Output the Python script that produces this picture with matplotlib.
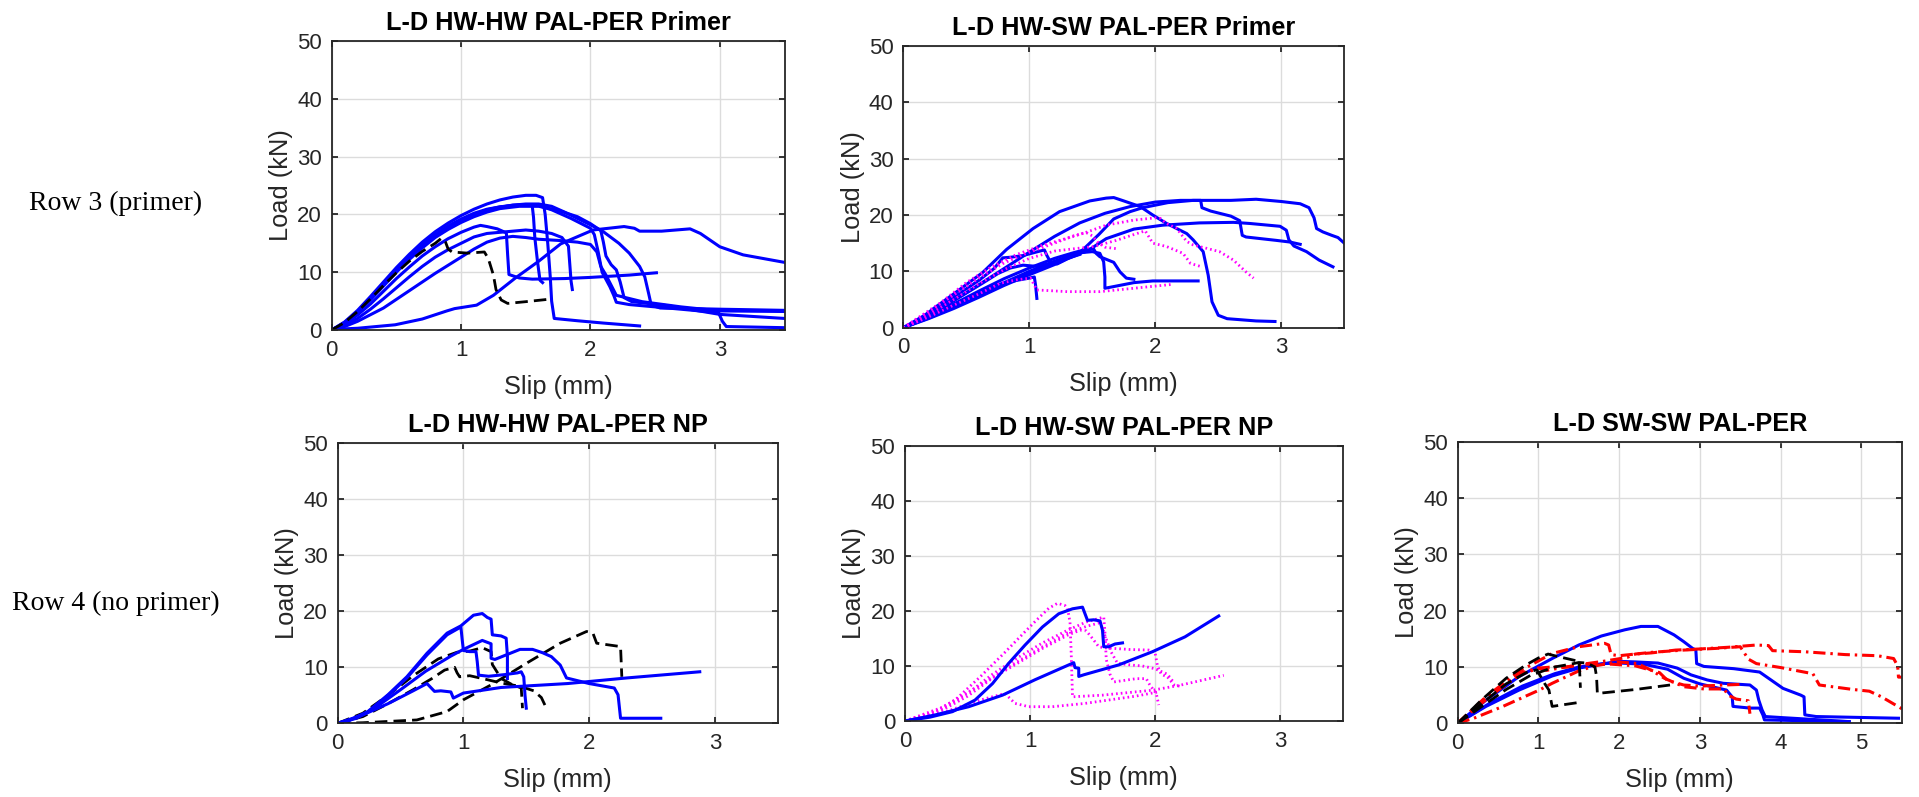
import matplotlib
matplotlib.use("Agg")
import matplotlib.pyplot as plt

# ---------------- DATA (slip mm, load kN) ----------------
# Panel: L-D HW-HW PAL-PER Primer
HWHW_P_BLUE_1 = [(0,0),(0.1,1.4),(0.2,3.4),(0.3,5.8),(0.4,8.3),(0.5,10.8),(0.6,13.1),(0.7,15.2),(0.8,17.0),(0.9,18.5),(1.0,19.8),(1.1,20.9),(1.2,21.8),(1.3,22.5),(1.4,23.0),(1.5,23.3),(1.58,23.3),(1.63,22.9),(1.65,20.0),(1.67,15.0),(1.69,9.0),(1.70,5.0),(1.72,2.0),(1.9,1.6),(2.1,1.2),(2.38,0.7)]
HWHW_P_BLUE_2 = [(0,0),(0.1,1.2),(0.2,3.1),(0.3,5.4),(0.4,7.9),(0.5,10.3),(0.6,12.5),(0.7,14.5),(0.8,16.2),(0.9,17.6),(1.0,18.8),(1.1,19.8),(1.2,20.6),(1.3,21.2),(1.4,21.6),(1.5,21.8),(1.6,21.8),(1.7,21.4),(1.8,20.4),(1.9,19.3),(2.0,18.2),(2.1,17.0),(2.22,15.0),(2.3,13.3),(2.38,11.0),(2.42,9.2),(2.45,6.3),(2.47,4.3),(2.54,3.8),(2.8,3.7),(3.0,3.6),(3.5,3.4)]
HWHW_P_BLUE_3 = [(0,0),(0.1,1.3),(0.2,3.2),(0.3,5.5),(0.4,8.0),(0.5,10.4),(0.6,12.6),(0.7,14.6),(0.8,16.3),(0.9,17.8),(1.0,19.0),(1.1,20.0),(1.2,20.8),(1.3,21.3),(1.45,21.6),(1.6,21.5),(1.7,20.8),(1.85,19.3),(2.0,17.6),(2.03,16.5),(2.06,13.5),(2.09,10.0),(2.15,7.5),(2.18,6.0),(2.2,4.8),(2.3,4.4),(2.6,3.8),(2.99,3.0),(3.02,1.5),(3.05,0.6),(3.5,0.4)]
HWHW_P_BLUE_4 = [(0,0),(0.1,1.1),(0.2,3.0),(0.3,5.2),(0.4,7.6),(0.5,10.0),(0.6,12.2),(0.7,14.2),(0.8,16.0),(0.9,17.4),(1.0,18.6),(1.1,19.6),(1.2,20.4),(1.3,21.0),(1.45,21.4),(1.6,21.4),(1.75,20.7),(1.9,19.6),(2.0,18.4),(2.08,17.2),(2.1,15.2),(2.12,12.8),(2.16,11.3),(2.2,10.4),(2.23,8.3),(2.26,5.6),(2.32,4.9),(2.6,4.2),(3.0,2.7),(3.5,2.0)]
HWHW_P_BLUE_5 = [(0,0),(0.1,1.2),(0.2,3.2),(0.3,5.6),(0.4,8.1),(0.5,10.6),(0.6,12.8),(0.7,14.8),(0.8,16.5),(0.9,18.0),(1.0,19.2),(1.1,20.2),(1.2,20.9),(1.3,21.3),(1.4,21.6),(1.5,21.7),(1.55,21.5),(1.56,19.5),(1.57,16.0),(1.59,12.0),(1.61,8.6),(1.63,8.2)]
HWHW_P_BLUE_6 = [(0,0),(0.1,1.0),(0.2,2.6),(0.3,4.5),(0.4,6.7),(0.5,8.9),(0.6,10.9),(0.7,12.8),(0.8,14.4),(0.9,15.8),(1.0,16.9),(1.1,17.8),(1.15,18.1),(1.2,17.9),(1.28,17.5),(1.35,16.8),(1.36,13.0),(1.37,9.6),(1.45,9.0),(1.55,8.8),(1.8,8.9),(2.0,9.1),(2.3,9.5),(2.51,9.9)]
HWHW_P_BLUE_7 = [(0,0),(0.1,0.8),(0.2,2.0),(0.3,3.6),(0.4,5.4),(0.5,7.3),(0.6,9.2),(0.7,11.0),(0.8,12.6),(0.9,13.9),(1.0,15.0),(1.1,16.1),(1.2,16.7),(1.35,17.0),(1.5,17.3),(1.6,17.1),(1.7,16.7),(1.78,16.0),(1.83,14.5),(1.84,11.5),(1.85,8.5),(1.86,7.0)]
HWHW_P_BLUE_8 = [(0,0.1),(0.2,0.3),(0.49,0.9),(0.7,1.9),(0.89,3.3),(0.95,3.7),(1.12,4.3),(1.25,6.0),(1.42,9.0),(1.6,11.9),(1.77,14.9),(2.02,17.3),(2.26,17.9),(2.34,17.6),(2.38,17.1),(2.55,17.1),(2.77,17.5),(2.85,16.7),(3.0,14.4),(3.18,13.0),(3.5,11.7)]
HWHW_P_BLUE_9 = [(0,0),(0.1,0.6),(0.2,1.5),(0.4,3.8),(0.6,6.8),(0.8,9.8),(1.0,12.6),(1.1,14.0),(1.2,15.2),(1.3,15.9),(1.4,16.2),(1.5,16.0),(1.6,15.7),(1.75,15.5),(1.9,15.2),(2.0,14.8),(2.05,13.5),(2.08,11.0),(2.12,9.5),(2.2,6.0),(2.4,4.9),(2.7,4.0),(3.0,3.3),(3.5,3.2)]
HWHW_P_BLACK_1 = [(0,0),(0.1,1.3),(0.2,3.2),(0.3,5.4),(0.4,7.7),(0.5,9.9),(0.6,11.9),(0.7,13.6),(0.8,15.0),(0.85,15.9),(0.88,15.2),(0.9,14.0),(0.93,13.5),(1.05,13.3),(1.18,13.5),(1.21,12.4),(1.25,9.5),(1.27,7.0),(1.31,5.2),(1.36,4.6),(1.5,4.9),(1.67,5.3)]

# Panel: L-D HW-SW PAL-PER Primer
HWSW_P_BLUE_1 = [(0,0),(0.1,1.0),(0.24,3.4),(0.4,6.0),(0.63,9.8),(0.82,13.9),(1.03,17.6),(1.24,20.6),(1.48,22.5),(1.61,23.0),(1.67,23.1),(1.75,22.5),(1.88,21.5),(1.98,20.0),(2.09,18.5),(2.25,16.7),(2.30,15.6),(2.38,13.5),(2.42,9.3),(2.45,4.6),(2.50,2.2),(2.57,1.6),(2.8,1.2),(2.95,1.1)]
HWSW_P_BLUE_2 = [(0,0),(0.2,2.0),(0.5,6.2),(0.8,10.5),(1.0,13.4),(1.2,16.2),(1.4,18.6),(1.6,20.3),(1.8,21.5),(2.0,22.3),(2.2,22.6),(2.36,22.6),(2.37,21.3),(2.44,20.7),(2.6,19.8),(2.67,19.0),(2.69,16.4),(2.72,16.1),(2.96,15.5),(3.07,15.2),(3.15,14.8)]
HWSW_P_BLUE_3 = [(0,0),(0.2,1.6),(0.4,3.4),(0.6,5.4),(0.8,7.5),(1.0,9.4),(1.2,11.2),(1.4,13.3),(1.55,16.5),(1.67,19.3),(1.8,20.6),(1.9,21.3),(2.1,22.2),(2.3,22.6),(2.6,22.6),(2.8,22.8),(3.0,22.4),(3.15,22.0),(3.22,21.3),(3.26,19.5),(3.28,17.6),(3.33,17.0),(3.4,16.4),(3.45,16.0),(3.5,15.0)]
HWSW_P_BLUE_4 = [(0,0),(0.2,1.7),(0.4,3.6),(0.6,5.6),(0.8,7.7),(1.0,9.7),(1.2,11.6),(1.4,13.2),(1.46,13.6),(1.61,15.8),(1.83,17.5),(2.06,18.2),(2.35,18.6),(2.62,18.7),(2.75,18.5),(2.99,18.0),(3.04,17.3),(3.06,15.6),(3.1,14.5),(3.2,13.5),(3.3,12.0),(3.41,10.8)]
HWSW_P_BLUE_5 = [(0,0),(0.2,1.8),(0.4,3.8),(0.6,5.9),(0.8,8.0),(1.0,10.0),(1.2,11.8),(1.4,13.3),(1.5,13.5),(1.56,13.2),(1.59,11.7),(1.6,9.0),(1.6,7.0),(1.67,7.3),(1.83,8.0),(1.98,8.3),(2.34,8.3)]
HWSW_P_BLUE_6 = [(0,0),(0.2,2.0),(0.4,4.2),(0.6,6.5),(0.8,8.7),(1.0,10.6),(1.2,12.3),(1.35,13.3),(1.45,13.9),(1.51,14.0),(1.53,13.2),(1.56,12.6),(1.67,11.6),(1.72,9.9),(1.77,8.8),(1.83,8.6)]
HWSW_P_BLUE_7 = [(0,0),(0.2,2.6),(0.4,5.4),(0.6,8.4),(0.72,10.5),(0.79,12.4),(0.85,12.5),(0.95,12.8),(1.05,13.4),(1.12,13.8),(1.14,12.8),(1.17,11.6),(1.22,11.3),(1.3,12.2),(1.4,13.1)]
HWSW_P_BLUE_8 = [(0,0),(0.2,2.2),(0.4,4.8),(0.6,7.5),(0.75,9.6),(0.85,10.6),(0.95,11.1),(1.05,10.9),(1.15,11.3),(1.3,12.3),(1.4,13.0)]
HWSW_P_BLUE_9 = [(0,0),(0.2,1.9),(0.4,4.0),(0.6,6.2),(0.7,7.3),(0.8,7.9),(0.9,8.4),(1.0,8.8),(1.04,9.0),(1.05,7.5),(1.06,5.2)]
HWSW_P_MAG_1 = [(0,0),(0.1,1.5),(0.3,4.5),(0.5,8.0),(0.7,10.8),(0.9,13.0),(1.1,14.6),(1.35,16.2),(1.46,17.0),(1.61,18.2),(1.83,19.1),(2.0,19.5),(2.04,19.4),(2.09,18.5),(2.17,17.6),(2.25,15.3),(2.3,14.7),(2.51,13.5),(2.62,12.0),(2.72,9.9),(2.78,8.8)]
HWSW_P_MAG_2 = [(0,0),(0.2,2.3),(0.4,5.0),(0.6,7.8),(0.8,10.3),(1.0,12.3),(1.2,13.6),(1.35,14.0),(1.51,14.4),(1.69,15.5),(1.92,17.2),(1.98,15.0),(2.09,14.4),(2.22,13.2),(2.28,11.4),(2.37,10.8)]
HWSW_P_MAG_3 = [(0,0),(0.2,2.8),(0.4,5.8),(0.6,8.8),(0.8,11.5),(1.0,13.4),(1.2,15.0),(1.35,16.3),(1.45,16.9),(1.5,16.3),(1.55,15.0),(1.6,14.3),(1.7,14.0)]
HWSW_P_MAG_4 = [(0,0),(0.2,1.9),(0.4,4.0),(0.6,6.0),(0.77,7.9),(0.9,8.5),(1.01,8.8),(1.06,6.7),(1.3,6.4),(1.56,6.4),(1.83,7.0),(2.14,7.7)]

# Panel: L-D HW-HW PAL-PER NP
HWHW_NP_BLUE_1 = [(0,0),(0.1,0.6),(0.24,2.1),(0.4,5.1),(0.55,8.3),(0.71,12.5),(0.87,16.1),(0.98,17.4),(1.08,19.3),(1.15,19.6),(1.19,18.9),(1.22,18.6),(1.23,15.8),(1.3,15.6),(1.34,15.2),(1.35,12.0),(1.35,8.0)]
HWHW_NP_BLUE_2 = [(0,0),(0.1,0.6),(0.24,2.0),(0.4,4.9),(0.55,8.1),(0.71,12.2),(0.87,15.8),(0.98,17.2),(0.99,15.0),(1.0,13.0),(1.05,12.8),(1.1,12.8),(1.11,11.0),(1.12,8.6),(1.2,8.4),(1.33,8.7),(1.43,9.0),(1.46,9.2),(1.48,8.3),(1.49,5.0),(1.5,2.7)]
HWHW_NP_BLUE_3 = [(0,0),(0.15,0.9),(0.3,2.8),(0.5,6.0),(0.7,9.3),(0.9,12.0),(1.0,13.2),(1.15,14.8),(1.22,14.2),(1.22,11.6),(1.25,11.4),(1.45,13.2),(1.55,13.2),(1.63,12.6),(1.7,11.9),(1.77,10.4),(1.82,8.1),(2.0,7.1),(2.15,6.5),(2.2,6.3),(2.23,5.1),(2.25,0.9),(2.57,0.9)]
HWHW_NP_BLUE_4 = [(0,0),(0.2,1.5),(0.4,3.5),(0.6,5.8),(0.71,7.1),(0.77,5.7),(0.82,5.8),(0.9,5.6),(0.92,4.5),(1.0,5.4),(1.3,6.4),(1.83,7.1),(2.3,8.1),(2.88,9.2)]
HWHW_NP_BLACK_1 = [(0,0),(0.2,0.1),(0.63,0.6),(0.87,2.1),(1.0,4.2),(1.24,7.1),(1.5,10.7),(1.77,14.3),(1.98,16.4),(2.03,16.1),(2.06,14.3),(2.25,13.7),(2.26,8.3)]
HWHW_NP_BLACK_2 = [(0,0),(0.2,1.8),(0.4,5.0),(0.6,8.5),(0.8,11.5),(0.95,12.7),(1.05,12.9),(1.15,13.5),(1.22,12.8),(1.23,10.5),(1.3,8.0),(1.38,7.0),(1.46,6.3),(1.47,2.7)]
HWHW_NP_BLACK_3 = [(0,0),(0.2,1.2),(0.4,3.5),(0.6,6.0),(0.75,8.0),(0.85,9.5),(0.93,10.0),(0.95,9.0),(0.97,8.3),(1.05,8.5),(1.15,8.0),(1.3,7.2),(1.45,6.6),(1.56,5.8),(1.62,4.6),(1.66,2.7)]

# Panel: L-D HW-SW PAL-PER NP
HWSW_NP_BLUE_1 = [(0,0),(0.2,0.7),(0.38,1.7),(0.56,3.8),(0.70,6.8),(0.83,10.5),(0.96,13.8),(1.10,17.1),(1.23,19.5),(1.34,20.4),(1.42,20.7),(1.43,20.1),(1.46,18.3),(1.51,18.4),(1.56,18.2),(1.58,16.5),(1.59,13.5),(1.63,13.5),(1.68,14.0),(1.74,14.2)]
HWSW_NP_BLUE_2 = [(0,0),(0.24,1.1),(0.51,2.6),(0.78,4.7),(1.04,7.5),(1.31,10.2),(1.35,10.6),(1.36,9.7),(1.39,9.6),(1.39,8.1),(1.43,8.4),(1.71,10.2),(1.98,12.6),(2.24,15.3),(2.51,19.1)]
HWSW_NP_MAG_1 = [(0,0),(0.2,1.2),(0.4,3.8),(0.6,8.0),(0.8,12.5),(0.95,16.0),(1.05,18.3),(1.15,20.5),(1.22,21.4),(1.28,21.0),(1.3,20.5),(1.32,18.0),(1.33,12.0),(1.34,4.4),(1.58,4.7),(1.98,5.6),(2.2,6.5),(2.55,8.3)]
HWSW_NP_MAG_2 = [(0,0),(0.3,2.2),(0.5,5.0),(0.7,8.5),(0.9,11.5),(1.1,14.2),(1.3,16.5),(1.45,18.0),(1.59,18.9),(1.6,16.0),(1.61,11.2),(1.64,8.5),(1.67,7.1),(1.85,7.7),(1.93,7.7),(1.96,6.5),(1.99,5.6),(2.01,5.0),(2.03,2.9)]
HWSW_NP_MAG_3 = [(0,0),(0.3,2.0),(0.5,4.5),(0.7,7.8),(0.9,10.5),(1.1,13.2),(1.3,15.6),(1.4,16.5),(1.45,16.4),(1.5,15.0),(1.55,13.5),(1.6,13.3),(1.8,13.0),(1.95,12.9),(2.0,12.5),(2.02,10.0),(2.05,8.5),(2.1,8.0),(2.15,6.6),(2.2,6.3)]
HWSW_NP_MAG_4 = [(0,0),(0.3,2.5),(0.6,6.5),(0.9,10.8),(1.1,13.5),(1.3,16.0),(1.45,17.2),(1.55,17.8),(1.58,17.0),(1.6,15.5),(1.65,12.5),(1.7,10.5),(1.8,10.2),(1.9,10.0),(2.0,9.5),(2.1,8.5),(2.15,7.0)]
HWSW_NP_MAG_5 = [(0,0),(0.3,1.5),(0.6,3.8),(0.8,5.0),(0.88,3.2),(0.99,2.6),(1.18,2.6),(1.44,3.2),(1.84,4.5),(2.03,5.3)]

# Panel: L-D SW-SW PAL-PER
SWSW_BLUE_1 = [(0,0),(0.35,4.1),(0.76,8.3),(1.17,11.5),(1.50,13.9),(1.78,15.5),(2.07,16.6),(2.27,17.2),(2.48,17.2),(2.6,16.3),(2.68,15.7),(2.8,14.5),(2.91,13.3),(2.95,13.0),(2.96,10.6),(3.05,10.1),(3.42,9.7),(3.74,9.1),(3.82,8.3),(4.03,6.2),(4.25,5.0),(4.29,4.7),(4.3,1.5),(4.44,1.2),(5.46,0.9)]
SWSW_BLUE_2 = [(0,0),(0.35,3.0),(0.76,5.9),(1.17,8.4),(1.50,9.8),(1.78,10.5),(1.99,11.0),(2.2,10.9),(2.48,10.7),(2.72,9.8),(2.89,8.6),(3.09,7.7),(3.29,7.1),(3.62,6.8),(3.70,5.9),(3.73,4.1),(3.77,2.4),(3.81,1.2),(4.03,1.0),(4.85,0.3)]
SWSW_BLUE_3 = [(0,0),(0.4,3.6),(0.8,6.6),(1.2,8.8),(1.5,10.0),(1.8,10.6),(2.0,10.7),(2.3,10.5),(2.6,9.6),(2.8,8.0),(3.0,7.0),(3.33,5.9),(3.4,4.7),(3.41,3.0),(3.62,2.7),(3.74,2.7),(3.78,1.5),(3.8,0.6),(4.85,0.3)]
SWSW_RED_1 = [(0,0),(0.35,4.7),(0.76,9.2),(1.17,12.4),(1.5,13.6),(1.82,14.2),(1.87,13.9),(1.9,12.2),(2.0,12.0),(2.2,12.3),(2.4,12.5),(2.7,13.0),(3.0,13.2),(3.35,13.5),(3.7,13.9),(3.85,13.8),(3.9,12.9),(4.3,12.7),(4.8,12.2),(5.2,12.0),(5.4,11.5),(5.45,10.2),(5.46,8.2),(5.5,8.2)]
SWSW_RED_2 = [(0,0),(0.2,0.9),(0.56,3.0),(1.01,5.9),(1.17,7.1),(1.5,9.3),(1.7,10.2),(1.99,10.9),(2.23,10.6),(2.4,9.4),(2.56,8.0),(2.8,6.5),(3.05,6.1),(3.3,6.1),(3.35,5.0),(3.45,4.3),(3.6,4.0),(3.62,1.7)]
SWSW_RED_3 = [(0,0),(0.35,4.5),(0.76,8.5),(1.0,9.8),(1.17,10.0),(1.35,10.0),(1.5,10.4),(1.8,11.0),(2.1,11.7),(2.2,12.3),(2.4,12.6),(2.8,13.0),(3.2,13.3),(3.5,13.6),(3.55,12.5),(3.6,11.4),(3.7,10.6),(4.0,9.9),(4.4,8.8),(4.48,6.8),(4.9,6.0),(5.1,5.7),(5.25,4.7),(5.5,2.6)]
SWSW_RED_4 = [(0,0),(0.3,3.6),(0.6,7.0),(0.8,9.0),(1.0,9.8),(1.1,9.4),(1.3,9.9),(1.6,10.5),(1.9,10.5),(2.2,10.2),(2.5,9.0),(2.6,7.6),(2.8,6.8),(3.0,6.6),(3.3,6.8),(3.5,6.9)]
SWSW_BLACK_1 = [(0,0),(0.3,4.2),(0.6,8.0),(0.85,10.4),(1.0,11.6),(1.12,12.3),(1.2,12.0),(1.35,11.5),(1.5,11.0),(1.51,9.5),(1.52,6.3)]
SWSW_BLACK_2 = [(0,0),(0.3,3.5),(0.6,7.0),(0.85,9.0),(0.98,9.5),(1.02,8.5),(1.08,7.0),(1.13,5.9),(1.17,3.0),(1.5,3.7)]
SWSW_BLACK_3 = [(0,0),(0.3,3.0),(0.6,6.0),(0.9,8.5),(1.2,10.0),(1.4,10.5),(1.5,10.8),(1.6,10.7),(1.7,10.0),(1.72,8.3),(1.73,5.3),(2.2,6.0),(2.63,6.8)]

TITLES = ["L-D HW-HW PAL-PER Primer", "L-D HW-SW PAL-PER Primer",
          "L-D HW-HW PAL-PER NP", "L-D HW-SW PAL-PER NP", "L-D SW-SW PAL-PER"]
ROW_LABELS = ["Row 3 (primer)", "Row 4 (no primer)"]
X_LABEL = "Slip (mm)"
Y_LABEL = "Load (kN)"
Y_TICKS = [0, 10, 20, 30, 40, 50]
X_TICKS_SHORT = [0, 1, 2, 3]
X_TICKS_LONG = [0, 1, 2, 3, 4, 5]

# ---------------- STYLE ----------------
plt.rcParams['font.family'] = ['Liberation Sans', 'DejaVu Sans']
W, H = 1919, 797
fig = plt.figure(figsize=(W / 100, H / 100), dpi=100)

def rect(l, t, r, b):
    return [l / W, 1 - b / H, (r - l) / W, (b - t) / H]

STYLE = {
    'blue': dict(color='#0000ff', lw=2.2, ls='-'),
    'black': dict(color='#000000', lw=2.0, ls=(0, (4.5, 2.2))),
    'mag': dict(color='#ff00ff', lw=2.0, ls=(0, (0.6, 1.1))),
    'red': dict(color='#ff0000', lw=2.2, ls=(0, (4.0, 1.6, 0.8, 1.6))),
}

panels = [
    (rect(331.7, 41, 784.5, 330), TITLES[0], 3.5, X_TICKS_SHORT,
     [('blue', c) for c in [HWHW_P_BLUE_1, HWHW_P_BLUE_2, HWHW_P_BLUE_3, HWHW_P_BLUE_4, HWHW_P_BLUE_5,
                            HWHW_P_BLUE_6, HWHW_P_BLUE_7, HWHW_P_BLUE_8, HWHW_P_BLUE_9]]
     + [('black', HWHW_P_BLACK_1)]),
    (rect(903.3, 46, 1344.3, 327.7), TITLES[1], 3.5, X_TICKS_SHORT,
     [('blue', c) for c in [HWSW_P_BLUE_1, HWSW_P_BLUE_2, HWSW_P_BLUE_3, HWSW_P_BLUE_4, HWSW_P_BLUE_5,
                            HWSW_P_BLUE_6, HWSW_P_BLUE_7, HWSW_P_BLUE_8, HWSW_P_BLUE_9]]
     + [('mag', c) for c in [HWSW_P_MAG_1, HWSW_P_MAG_2, HWSW_P_MAG_3, HWSW_P_MAG_4]]),
    (rect(337.7, 443.3, 777.7, 723.3), TITLES[2], 3.5, X_TICKS_SHORT,
     [('black', c) for c in [HWHW_NP_BLACK_1, HWHW_NP_BLACK_2, HWHW_NP_BLACK_3]]
     + [('blue', c) for c in [HWHW_NP_BLUE_1, HWHW_NP_BLUE_2, HWHW_NP_BLUE_3, HWHW_NP_BLUE_4]]),
    (rect(905, 446, 1342.5, 721), TITLES[3], 3.5, X_TICKS_SHORT,
     [('mag', c) for c in [HWSW_NP_MAG_1, HWSW_NP_MAG_2, HWSW_NP_MAG_3, HWSW_NP_MAG_4, HWSW_NP_MAG_5]]
     + [('blue', c) for c in [HWSW_NP_BLUE_1, HWSW_NP_BLUE_2]]),
    (rect(1457.7, 441.7, 1901.7, 723.3), TITLES[4], 5.5, X_TICKS_LONG,
     [('blue', c) for c in [SWSW_BLUE_1, SWSW_BLUE_2, SWSW_BLUE_3]]
     + [('red', c) for c in [SWSW_RED_1, SWSW_RED_2, SWSW_RED_3, SWSW_RED_4]]
     + [('black', c) for c in [SWSW_BLACK_1, SWSW_BLACK_2, SWSW_BLACK_3]]),
]

AX_COLOR = '#262626'
for r, title, xmax, xticks, curves in panels:
    ax = fig.add_axes(r)
    for kind, pts in curves:
        st = STYLE[kind]
        xs = [p[0] for p in pts]
        ys = [p[1] for p in pts]
        ax.plot(xs, ys, color=st['color'], lw=st['lw'], linestyle=st['ls'],
                solid_joinstyle='round', dash_capstyle='butt')
    ax.set_xlim(0, xmax)
    ax.set_ylim(0, 50)
    ax.set_xticks(xticks)
    ax.set_yticks(Y_TICKS)
    ax.grid(True, color='#dcdcdc', lw=1.0)
    ax.set_axisbelow(True)
    for s in ax.spines.values():
        s.set_color(AX_COLOR)
        s.set_linewidth(1.3)
    ax.tick_params(direction='in', top=True, right=True, length=4, width=1.3,
                   colors=AX_COLOR, labelsize=16, pad=7)
    ax.set_xlabel(X_LABEL, fontsize=18.3, color=AX_COLOR, labelpad=10)
    ax.set_ylabel(Y_LABEL, fontsize=18.3, color=AX_COLOR, labelpad=3)
    ax.set_title(title, fontsize=18.2, fontweight='bold', color='black', pad=8)

fig.text(116 / W, 1 - 203 / H, ROW_LABELS[0], ha='center', va='center',
         family='Liberation Serif', fontsize=20, color='black')
fig.text(116 / W, 1 - 603 / H, ROW_LABELS[1], ha='center', va='center',
         family='Liberation Serif', fontsize=20, color='black')

fig.savefig("out.png", dpi=100)
